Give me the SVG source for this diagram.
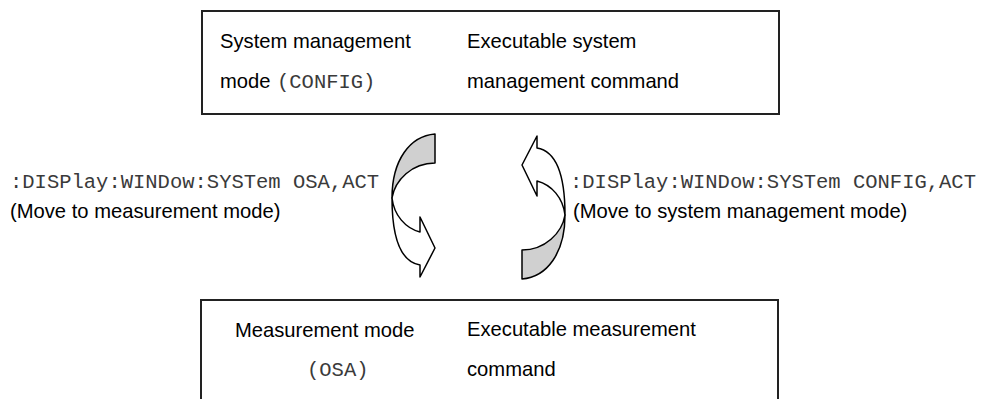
<svg xmlns="http://www.w3.org/2000/svg" width="986" height="399" viewBox="0 0 986 399">
<style>
.box{fill:#fff;stroke:#222;stroke-width:2}
.s{font-family:"Liberation Sans",Arial,sans-serif;font-size:20.2px;fill:#000}
.m{font-family:"Liberation Mono","Courier New",monospace;font-size:20.5px;fill:#3a3a3a}
.gray{fill:#d0d0d0;stroke:#000;stroke-width:1.5;stroke-linejoin:round}
.white{fill:#fff;stroke:#000;stroke-width:1.5;stroke-linejoin:round}
</style>
<defs>
<g id="curl">
<path class="gray" d="M435,134 C410,136 392,160 392,198 C395,180 412,163 435,163 Z"/>
<path class="white" d="M392,198 C392,240 402,262 420,265 L420,277 L435,248 L420,217 L420,232 C405,228 394,215 392,198 Z"/>
</g>
</defs>
<rect width="986" height="399" fill="#fff"/>
<g id="node-config">
<rect class="box" x="202" y="11" width="577" height="103"/>
<text class="s" x="220" y="48">System management</text>
<text class="s" x="220" y="88">mode</text>
<text class="m" x="277" y="88" font-size="19.5">(CONFIG)</text>
<text class="s" x="467" y="48">Executable system</text>
<text class="s" x="467" y="88">management command</text>
</g>
<g id="node-osa">
<rect class="box" x="201" y="300" width="577" height="120"/>
<text class="s" x="235" y="337">Measurement mode</text>
<text class="m" x="307" y="376" font-size="19.5">(OSA)</text>
<text class="s" x="467" y="336">Executable measurement</text>
<text class="s" x="467" y="376">command</text>
</g>
<g id="connectors">
<use href="#curl"/>
<use href="#curl" transform="rotate(180 478.5 206.5)"/>
</g>
<g id="label-to-osa">
<text class="m" x="10" y="188">:DISPlay:WINDow:SYSTem OSA,ACT</text>
<text class="s" x="10" y="218">(Move to measurement mode)</text>
</g>
<g id="label-to-config">
<text class="m" x="570" y="188">:DISPlay:WINDow:SYSTem CONFIG,ACT</text>
<text class="s" x="573" y="218">(Move to system management mode)</text>
</g>
</svg>
